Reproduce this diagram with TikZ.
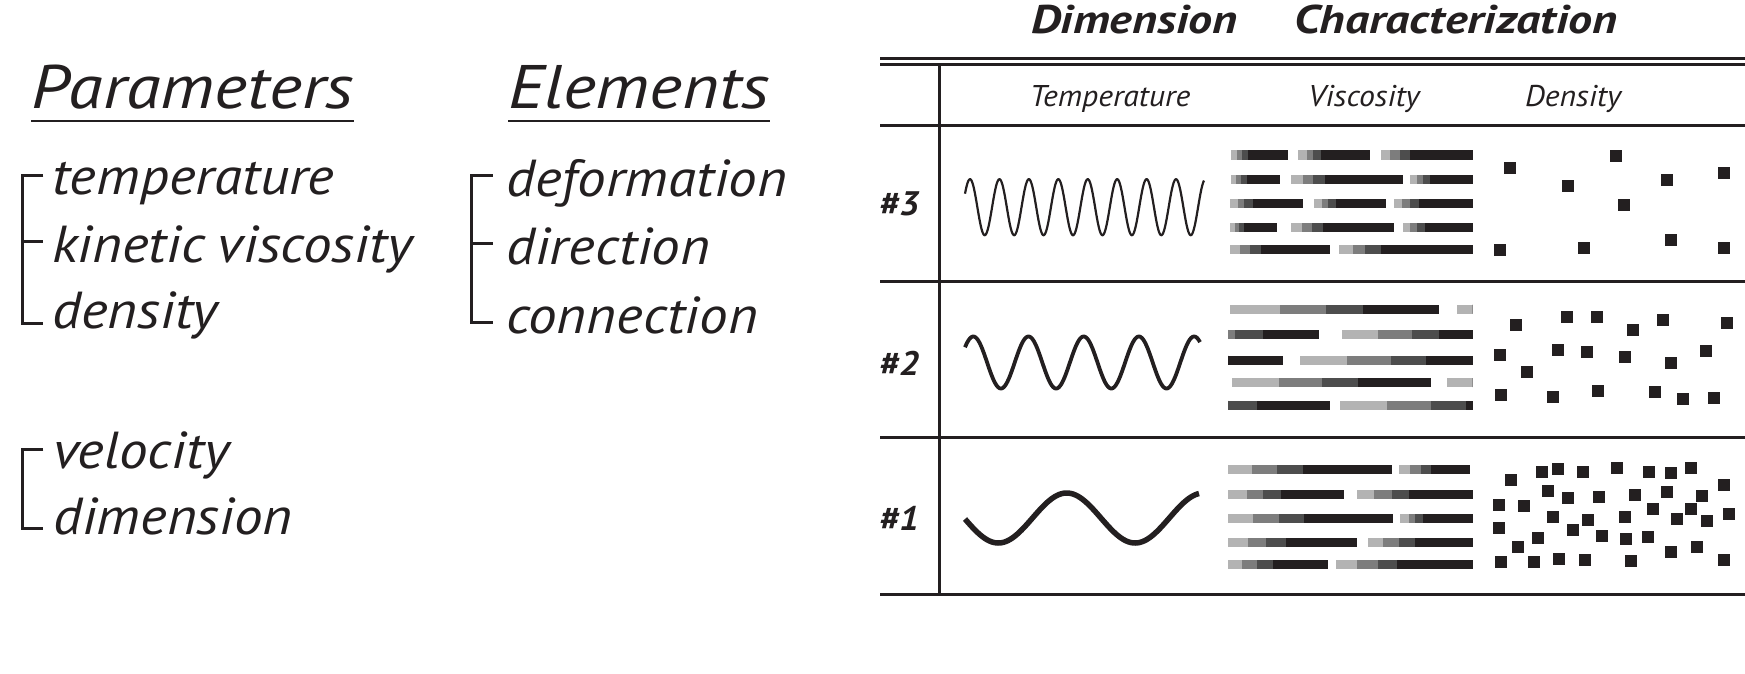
\documentclass[tikz,border=0pt]{standalone}
\usepackage{fontspec}
\setmainfont{PT Sans}
\newfontfamily\headf{PT Sans}[FakeStretch=1.15]
\newfontfamily\itemf{PT Sans}[FakeStretch=1.10]
\newfontfamily\ttlf{PT Sans}[FakeStretch=1.20]
\newfontfamily\colf{PT Sans}[FakeStretch=1.06]
\newfontfamily\rowf{PT Sans}[FakeStretch=1.08]
\definecolor{ink}{HTML}{231F20}
\definecolor{lg}{HTML}{B3B3B3}
\definecolor{mg}{HTML}{7D7D7D}
\definecolor{dg}{HTML}{4D4D4D}
\newcommand\gradbar[6]{%
  \fill[lg] (#2,#1-4.5) rectangle (#3,#1+4.5);
  \fill[mg] (#3,#1-4.5) rectangle (#4,#1+4.5);
  \fill[dg] (#4,#1-4.5) rectangle (#5,#1+4.5);
  \fill[ink] (#5,#1-4.5) rectangle (#6,#1+4.5);}
\begin{document}
\begin{tikzpicture}[x=1pt,y=-1pt,
  every node/.style={inner sep=0pt,outer sep=0pt,text=ink},
  head/.style={anchor=base west,font=\headf\fontsize{61.5}{64}\selectfont\itshape},
  item/.style={anchor=base west,font=\itemf\fontsize{52}{56}\selectfont\itshape},
  ttl/.style={anchor=base west,font=\ttlf\fontsize{40}{42}\selectfont\bfseries\itshape},
  colhead/.style={anchor=base,font=\colf\fontsize{30}{32}\selectfont\itshape},
  rowlab/.style={anchor=base,font=\rowf\fontsize{34}{36}\selectfont\bfseries\itshape},
  uline/.style={draw=ink,line width=2.7pt},
  brack/.style={draw=ink,line width=3pt},
  rule/.style={draw=ink,line width=3pt},
  dot/.style={fill=ink}]
\useasboundingbox (0,0) rectangle (1745,674);

% ---- left lists
\node[head] (par) at (31,108.3) {Parameters};
\draw[uline] ([yshift=-12.7pt]par.base west) -- ([yshift=-12.7pt]par.base east);
\node[item] (t1) at (52,194) {temperature};
\node[item] (t2) at (52,262.5) {kinetic\hspace{-0.06em} viscosity};
\node[item] (t3) at (52,328) {density};
\draw[brack] (43.3,175) -- (22,175) -- (22,323) -- (43.3,323);
\draw[brack] (22,241.7) -- (43.3,241.7);

\node[item] (v1) at (53,468) {velocity};
\node[item] (v2) at (53,534) {dimension};
\draw[brack] (43.3,449.3) -- (22,449.3) -- (22,528) -- (43.3,528);

\node[head] (ele) at (508,108.3) {Elements};
\draw[uline] ([yshift=-12.7pt]ele.base west) -- ([yshift=-12.7pt]ele.base east);
\node[item] (e1) at (506,196.7) {deformation};
\node[item] (e2) at (506,264) {direction};
\node[item] (e3) at (506,333) {connection};
\draw[brack] (492.7,175) -- (471.7,175) -- (471.7,322.7) -- (492.7,322.7);
\draw[brack] (471.7,243.3) -- (492.7,243.3);

% ---- table
\node[ttl] (dim) at (1031,33.3) {Dimension};
\node[ttl] (cha) at (1294,33.3) {Characterization};
\draw[rule] (880,58.3) -- (1746,58.3);
\draw[rule] (880,64.2) -- (1746,64.2);
\draw[rule] (880,125.3) -- (1746,125.3);
\draw[rule] (880,281.7) -- (1746,281.7);
\draw[rule] (880,437.3) -- (1746,437.3);
\draw[rule] (880,594) -- (1746,594);
\draw[rule] (939.3,64.2) -- (939.3,594);

\node[colhead] (ch1) at (1110,106.7) {Temperature};
\node[colhead] (ch2) at (1364,106.7) {Viscosity};
\node[colhead] (ch3) at (1573,106.7) {Density};

\node[rowlab] (r3) at (899,215) {\#3};
\node[rowlab] (r2) at (899,375) {\#2};
\node[rowlab] (r1) at (899,530.5) {\#1};

% waves
\draw[ink,line width=2.2pt] plot[domain=965:1204,samples=500,smooth] (\x,{207.2-28*cos(12.232*(\x-970))});
\draw[ink,line width=3.8pt] plot[domain=965:1200,samples=300,smooth] (\x,{362.5-26*cos(6.5217*(\x-973.3))});
\draw[ink,line width=5.5pt] plot[domain=965:1199,samples=200,smooth] (\x,{518+25*cos(2.6316*(\x-998.3))});

% viscosity bars row 3
\gradbar{155}{1231}{1236.7}{1241.7}{1248.3}{1287.7}
\gradbar{155}{1298.3}{1306.7}{1312.7}{1320.7}{1370}
\gradbar{155}{1380.7}{1390}{1400}{1410}{1472.7}
\gradbar{179}{1231}{1236}{1241}{1246.7}{1280}
\gradbar{179}{1291}{1302.7}{1313.3}{1325}{1402.7}
\gradbar{179}{1410}{1417.3}{1423.3}{1430}{1472.7}
\gradbar{203.3}{1230}{1237.7}{1244}{1252.7}{1303.3}
\gradbar{203.3}{1314.3}{1321.7}{1327.7}{1336}{1385.7}
\gradbar{203.3}{1394}{1401.7}{1410}{1419.3}{1472.7}
\gradbar{227.5}{1230}{1235}{1239.3}{1244}{1277.3}
\gradbar{227.5}{1291}{1301.7}{1311.7}{1322.7}{1394}
\gradbar{227.5}{1402.7}{1410}{1416.7}{1425}{1472.7}
\gradbar{249.3}{1230}{1240}{1250}{1260.7}{1330}
\gradbar{249.3}{1338.7}{1353.3}{1365}{1380.7}{1472.7}
% row 2
\gradbar{309}{1230}{1280}{1325.7}{1362.7}{1439.3}
\gradbar{309}{1456.7}{1472.7}{1472.7}{1472.7}{1472.7}
\gradbar{334}{1228.3}{1228.3}{1235}{1262.7}{1319}
\gradbar{334}{1342.3}{1378.3}{1411.7}{1439}{1472.7}
\gradbar{360}{1228.3}{1228.3}{1228.3}{1228.3}{1282.7}
\gradbar{360}{1300}{1347.3}{1390.7}{1426}{1472.7}
\gradbar{382.7}{1231.7}{1279.3}{1322.3}{1357.7}{1430.7}
\gradbar{382.7}{1446.7}{1472.7}{1472.7}{1472.7}{1472.7}
\gradbar{405}{1228.3}{1228.3}{1228.3}{1257.3}{1330}
\gradbar{405}{1340}{1387.3}{1430.7}{1466}{1472.7}
% row 1
\gradbar{469.3}{1228.3}{1252.3}{1277.4}{1302.5}{1391.8}
\gradbar{469.3}{1399}{1410.2}{1420.8}{1430.8}{1469.9}
\gradbar{494}{1228.3}{1246.7}{1263.4}{1281.3}{1344.3}
\gradbar{494}{1357.2}{1373.9}{1391.8}{1408.5}{1472.7}
\gradbar{518}{1228.3}{1253.4}{1278.5}{1303.6}{1392.9}
\gradbar{518}{1400.1}{1408.5}{1415.2}{1422.5}{1472.7}
\gradbar{542.7}{1228.3}{1247.8}{1266.2}{1285.7}{1356.6}
\gradbar{542.7}{1368.3}{1383.4}{1399}{1415.2}{1472.7}
\gradbar{564}{1228.3}{1242.2}{1256.7}{1272.9}{1327.6}
\gradbar{564}{1336}{1356.6}{1377.8}{1397.3}{1472.7}

% density dots
\foreach \a/\b in {1509.7/168.3,1567.7/186,1616/155.7,1624.3/204.7,1666.7/180,1724.3/172.7,
  1500/250,1584.3/248.3,1671/240,1724.3/248.3,
  1515.7/325,1567.3/317.3,1596.7/317.3,1633.3/330,1663.3/320,1727.3/323.3,
  1500/355,1526.7/371.7,1558.3/350,1586.7/352.3,1625.3/357.3,1671/363.3,1705.7/351,
  1500.7/395,1553.3/396.7,1598.3/391,1655.3/392,1683.3/399.3,1714.3/397.7,
  1511/480,1541.7/472.3,1558.3/469,1583.3/471.7,1616.7/467.7,1649.3/472.3,1671/473.3,1691/468.3,1724/485,
  1547.7/490.7,1568.3/498.3,1599/497.3,1635.3/495,1666.7/492.3,1702.3/496,1499/505,1524.3/506,
  1652.7/509.3,1691/509,1729.3/514,1553.3/517.3,1587.7/520.3,1625/516.7,1677.3/519.3,1706.7/521.3,
  1499/527.7,1573.3/530,1602/536,1625.7/538.7,1647.7/537,1538.3/538.3,1517.7/546.7,1671/551.7,1697.3/547.3,
  1501/561.7,1534/562.3,1559.3/559,1585.3/560.3,1631/561,1724/560.3}
{\fill[dot] (\a-6,\b-6) rectangle (\a+6,\b+6);}
\end{tikzpicture}
\end{document}
